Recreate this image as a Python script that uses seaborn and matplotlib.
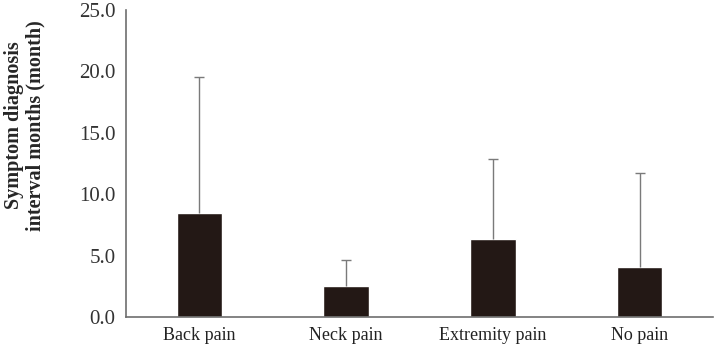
#!/usr/bin/env python3
"""Symptom-to-diagnosis interval by pain type, bar chart with upper SD bars."""
import matplotlib

matplotlib.use("Agg")
import matplotlib.pyplot as plt
import numpy as np
import pandas as pd
import seaborn as sns

categories = ["Back pain", "Neck pain", "Extremity pain", "No pain"]
means = [8.45, 2.52, 6.33, 4.07]
sds = [11.1, 2.12, 6.52, 7.62]
yticks = [0.0, 5.0, 10.0, 15.0, 20.0, 25.0]

BAR_COLOR = "#231815"
ERR_COLOR = "#7a7a7a"
AXIS_COLOR = "#6e6e6e"


def main():
    sns.set_style("white")
    plt.rcParams["font.family"] = ["Liberation Serif", "DejaVu Serif"]

    df = pd.DataFrame({"group": categories, "months": means})

    fig = plt.figure(figsize=(7.14, 3.49), dpi=100)
    ax = fig.add_axes([0.1765, 0.0917, 0.8221, 0.8796])

    sns.barplot(data=df, x="group", y="months", color=BAR_COLOR,
                width=0.31, saturation=1, ax=ax)

    # upper error bars only (drop the cap sitting on the bar top)
    xs = np.arange(len(categories))
    _, caps, _ = ax.errorbar(xs, means, yerr=[np.zeros(len(sds)), sds],
                             fmt="none", ecolor=ERR_COLOR, elinewidth=1.0,
                             capsize=3.5, capthick=1.0, zorder=1)
    caps[0].set_visible(False)

    ax.set_xlim(-0.5, len(categories) - 0.5)
    ax.set_ylim(0, 25)
    ax.set_yticks(yticks)
    ax.set_yticklabels([f"{v:.1f}" for v in yticks])

    ax.set_xticks(xs)
    ax.set_xticklabels(categories)
    ax.set_xticks(np.arange(-0.5, len(categories)), minor=True)
    ax.tick_params(axis="x", which="major", length=0, labelsize=13, pad=7,
                   labelcolor="#222222")
    ax.tick_params(axis="x", which="minor", length=5, width=1,
                   color=AXIS_COLOR, direction="out")
    ax.tick_params(axis="y", length=5, width=1, color=AXIS_COLOR,
                   direction="out", labelsize=15, pad=2.5,
                   labelcolor="#333333")

    for side in ["top", "right"]:
        ax.spines[side].set_visible(False)
    for side in ["left", "bottom"]:
        ax.spines[side].set_color(AXIS_COLOR)
        ax.spines[side].set_linewidth(1.2)

    ax.set_xlabel("")
    ax.set_ylabel("Symptom diagnosis\ninterval months (month)",
                  fontsize=14.5, fontweight="bold", linespacing=1.05)
    ax.yaxis.set_label_coords(-0.138, 0.625)

    fig.savefig("out.png", dpi=100)
    plt.close(fig)


if __name__ == "__main__":
    main()
